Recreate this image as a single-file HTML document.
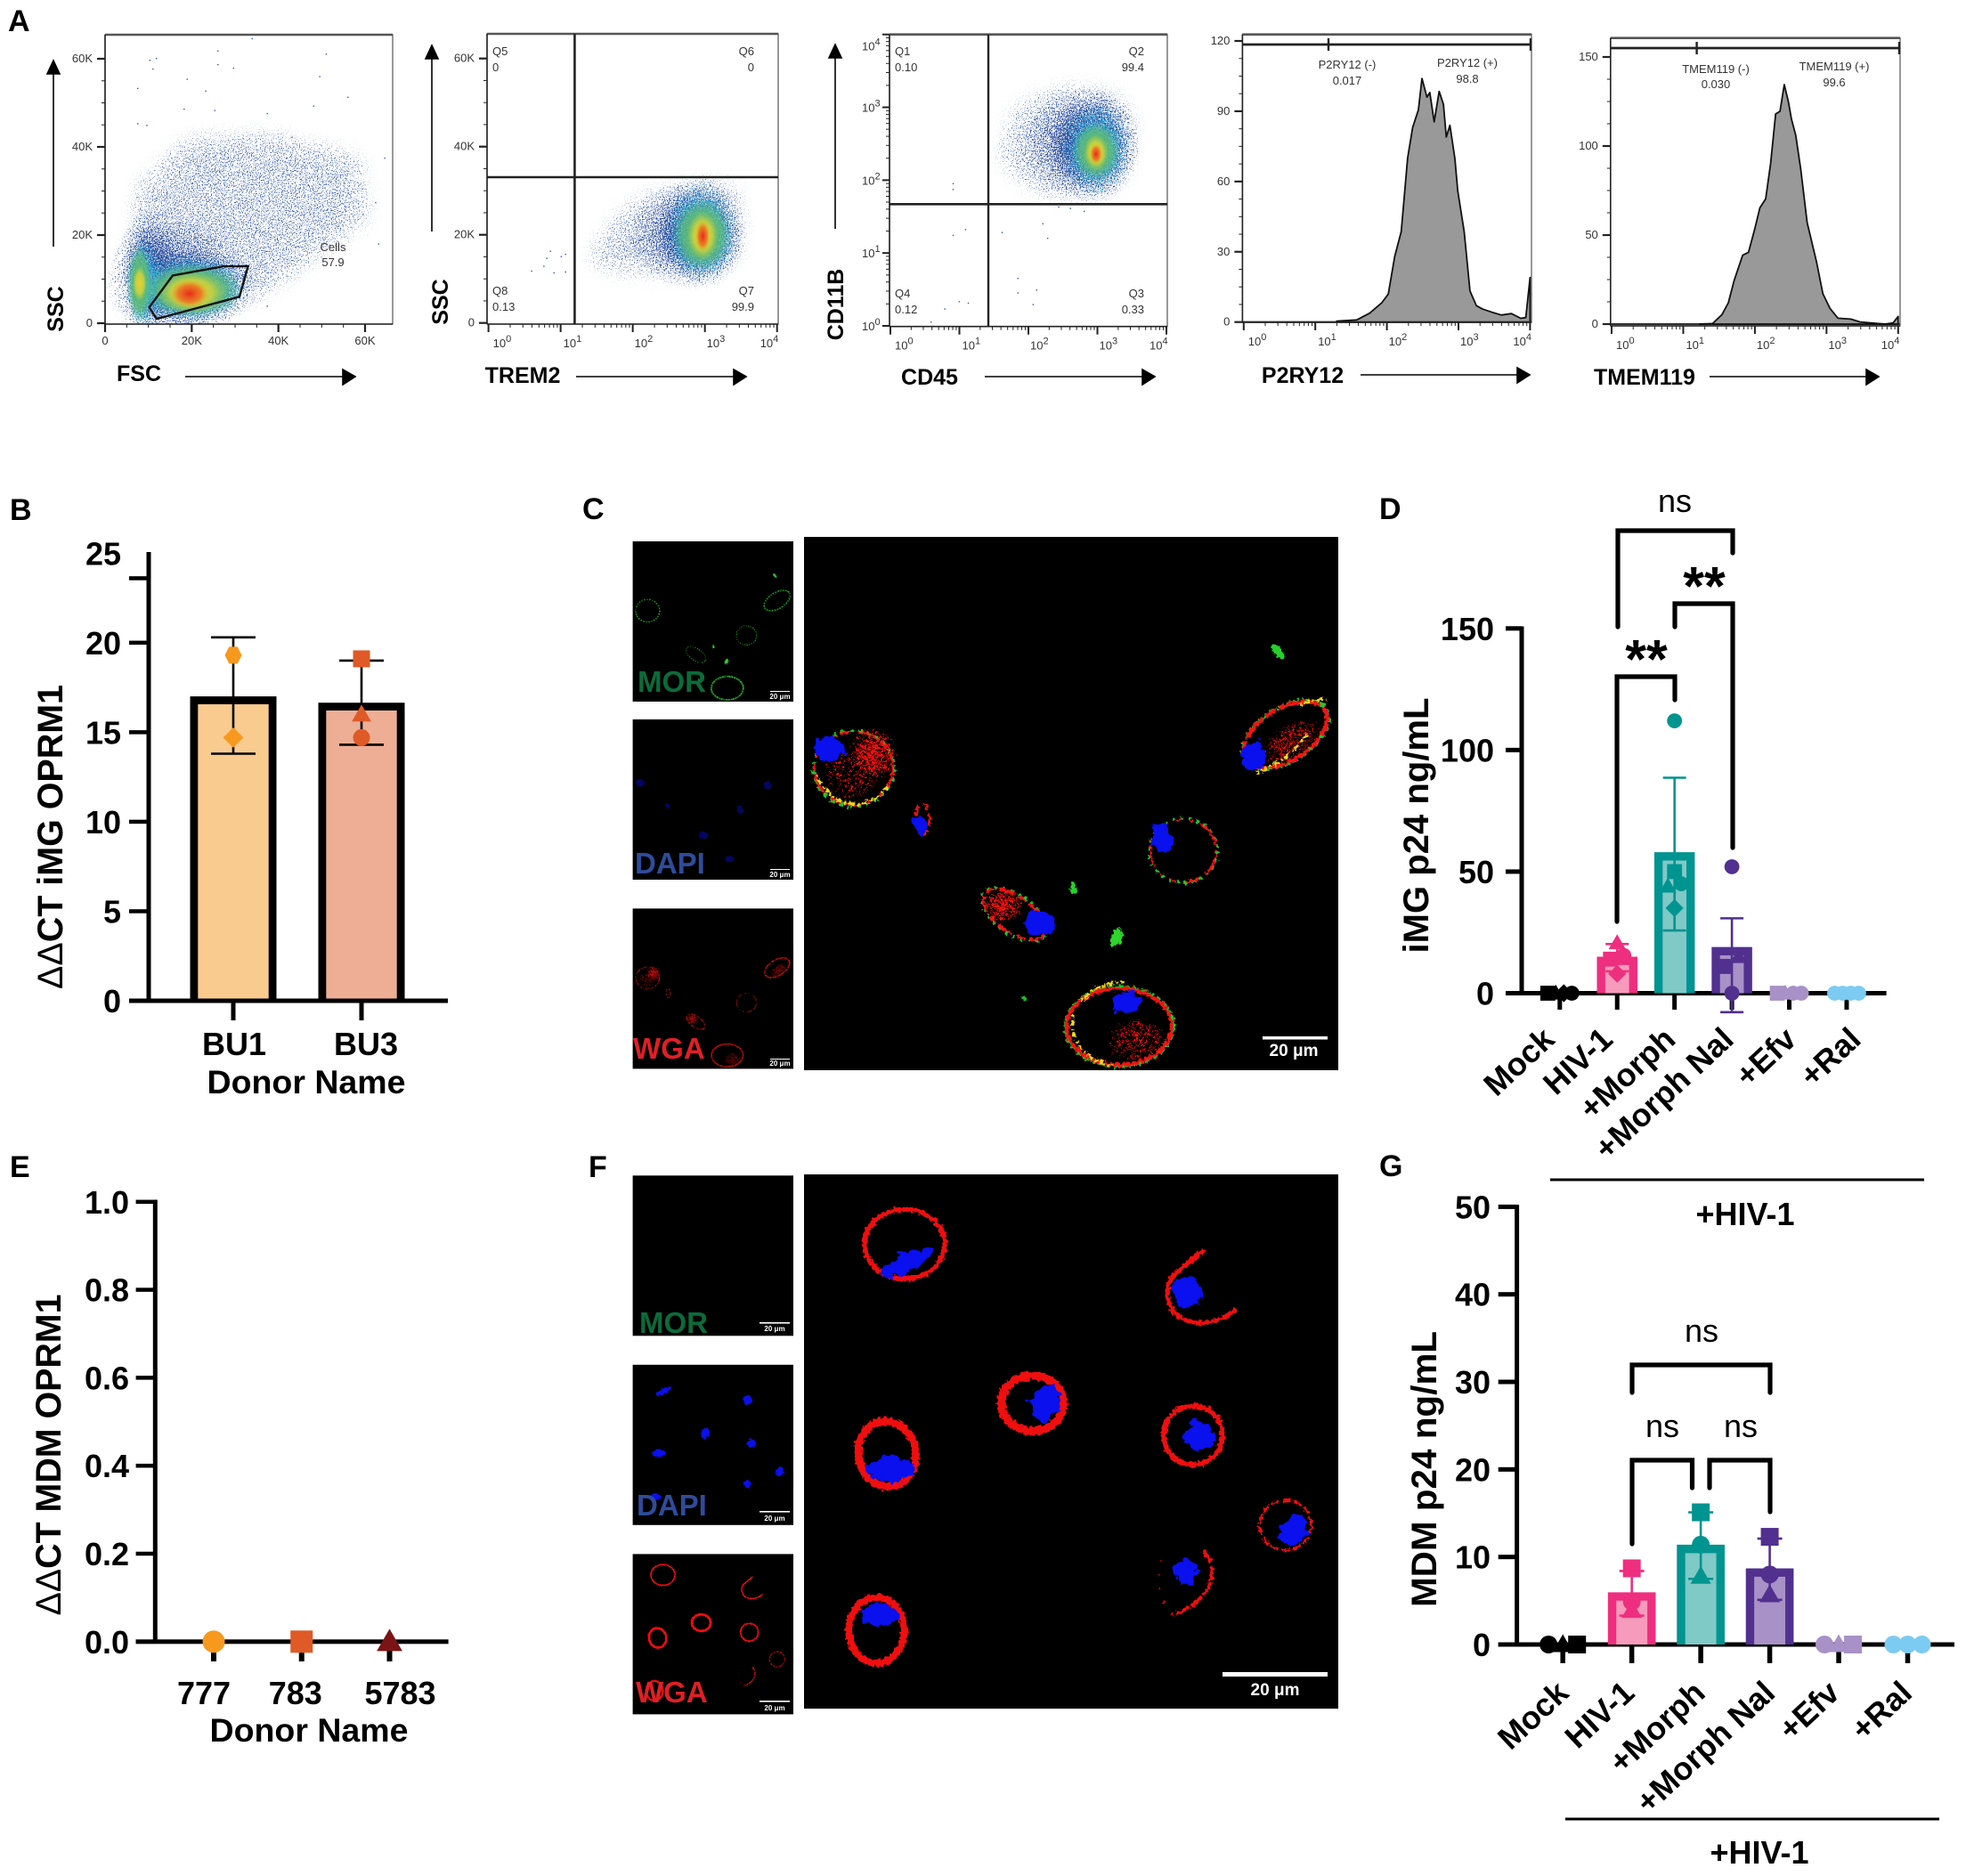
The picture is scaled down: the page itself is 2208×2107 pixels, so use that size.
<!DOCTYPE html>
<html lang="en">
<head>
<meta charset="utf-8">
<title>OPRM1 expression and HIV-1 p24 figure</title>
<style>
html,body{margin:0;padding:0;background:#fff;width:2208px;height:2107px;overflow:hidden}
svg{display:block;font-family:"Liberation Sans",Arial,sans-serif}
.pl{font-size:34px;font-weight:700;fill:#000}
.ttl{font-size:40px;font-weight:700;fill:#000}
.flow{font-size:25px;font-weight:700;fill:#000}
.sm{font-size:13px;fill:#333}
.bold{font-size:36px;font-weight:700;fill:#000}
.ns{font-size:36px;fill:#000}
.star{font-size:61px;font-weight:700;fill:#000}
.ch{font-size:33px;font-weight:700}
.bar{font-size:8px;font-weight:700;fill:#fff}
.big{font-size:19px;font-weight:700;fill:#fff}
</style>
</head>
<body>
<svg id="fig" xmlns="http://www.w3.org/2000/svg" width="2208" height="2107" viewBox="0 0 2208 2107">
<defs>
<radialGradient id="g-navy"><stop offset="0" stop-color="#000" stop-opacity=".8"/><stop offset=".6" stop-color="#000" stop-opacity=".34"/><stop offset="1" stop-color="#000" stop-opacity="0"/></radialGradient>
<radialGradient id="g-cyan"><stop offset="0" stop-color="#000" stop-opacity=".95"/><stop offset=".65" stop-color="#000" stop-opacity=".5"/><stop offset="1" stop-color="#000" stop-opacity="0"/></radialGradient>
<radialGradient id="g-green"><stop offset="0" stop-color="#63bd5c" stop-opacity="1"/><stop offset=".65" stop-color="#5cbc7a" stop-opacity=".8"/><stop offset="1" stop-color="#45b7a8" stop-opacity="0"/></radialGradient>
<radialGradient id="g-yellow"><stop offset="0" stop-color="#ecd02c" stop-opacity="1"/><stop offset=".6" stop-color="#d6d43a" stop-opacity=".8"/><stop offset="1" stop-color="#a8cc4a" stop-opacity="0"/></radialGradient>
<radialGradient id="g-red"><stop offset="0" stop-color="#e8281c" stop-opacity="1"/><stop offset=".6" stop-color="#ee6a1f" stop-opacity=".8"/><stop offset="1" stop-color="#eeaa25" stop-opacity="0"/></radialGradient>
<radialGradient id="g-patch"><stop offset="0" stop-color="#f00" stop-opacity=".8"/><stop offset=".65" stop-color="#f00" stop-opacity=".5"/><stop offset="1" stop-color="#f00" stop-opacity="0"/></radialGradient>
<filter id="spSparse" filterUnits="userSpaceOnUse" x="100" y="30" width="1240" height="345" color-interpolation-filters="sRGB">
<feGaussianBlur in="SourceAlpha" stdDeviation="11" result="b"/>
<feTurbulence type="fractalNoise" baseFrequency="0.8" numOctaves="1" seed="9" result="n"/>
<feColorMatrix in="n" type="matrix" values="0 0 0 0 0 0 0 0 0 0 0 0 0 0 0 3 0 0 0 -1" result="na"/>
<feComposite in="b" in2="na" operator="arithmetic" k2="1" k3="1" k4="-1" result="s"/>
<feComponentTransfer in="s" result="t"><feFuncA type="linear" slope="9"/></feComponentTransfer>
<feFlood flood-color="#3a5eab"/><feComposite in2="t" operator="in"/>
</filter>
<filter id="spNavy" filterUnits="userSpaceOnUse" x="100" y="30" width="1240" height="345" color-interpolation-filters="sRGB">
<feGaussianBlur in="SourceAlpha" stdDeviation="3" result="b"/>
<feTurbulence type="fractalNoise" baseFrequency="0.75" numOctaves="1" seed="4" result="n"/>
<feColorMatrix in="n" type="matrix" values="0 0 0 0 0 0 0 0 0 0 0 0 0 0 0 3 0 0 0 -1" result="na"/>
<feComposite in="b" in2="na" operator="arithmetic" k2="1" k3="1" k4="-1" result="s"/>
<feComponentTransfer in="s" result="t"><feFuncA type="linear" slope="7"/></feComponentTransfer>
<feFlood flood-color="#2b4c9e"/><feComposite in2="t" operator="in"/>
</filter>
<filter id="spCyan" filterUnits="userSpaceOnUse" x="100" y="30" width="1240" height="345" color-interpolation-filters="sRGB">
<feGaussianBlur in="SourceAlpha" stdDeviation="2" result="b"/>
<feTurbulence type="fractalNoise" baseFrequency="0.7" numOctaves="1" seed="11" result="n"/>
<feColorMatrix in="n" type="matrix" values="0 0 0 0 0 0 0 0 0 0 0 0 0 0 0 3 0 0 0 -1" result="na"/>
<feComposite in="b" in2="na" operator="arithmetic" k2="1" k3="1" k4="-1" result="s"/>
<feComponentTransfer in="s" result="t"><feFuncA type="linear" slope="7"/></feComponentTransfer>
<feFlood flood-color="#38aede"/><feComposite in2="t" operator="in"/>
</filter>
<filter id="spRed" x="-10%" y="-10%" width="120%" height="120%" color-interpolation-filters="sRGB">
<feGaussianBlur in="SourceAlpha" stdDeviation="1" result="b"/>
<feTurbulence type="fractalNoise" baseFrequency="0.5" numOctaves="1" seed="7" result="n"/>
<feColorMatrix in="n" type="matrix" values="0 0 0 0 0 0 0 0 0 0 0 0 0 0 0 3 0 0 0 -1" result="na"/>
<feComposite in="b" in2="na" operator="arithmetic" k2="1" k3="1" k4="-1" result="s"/>
<feComponentTransfer in="s" result="t"><feFuncA type="linear" slope="7"/></feComponentTransfer>
<feFlood flood-color="#f0120f"/><feComposite in2="t" operator="in"/>
</filter>
<filter id="rough" x="-15%" y="-15%" width="130%" height="130%" color-interpolation-filters="sRGB">
<feTurbulence type="fractalNoise" baseFrequency="0.28" numOctaves="2" seed="5" result="n"/>
<feDisplacementMap in="SourceGraphic" in2="n" scale="7" xChannelSelector="R" yChannelSelector="G"/>
</filter>
<filter id="roughN" x="-25%" y="-25%" width="150%" height="150%" color-interpolation-filters="sRGB">
<feTurbulence type="fractalNoise" baseFrequency="0.09" numOctaves="3" seed="13" result="n"/>
<feDisplacementMap in="SourceGraphic" in2="n" scale="15" xChannelSelector="R" yChannelSelector="G"/>
</filter>

<g id="c-red" filter="url(#rough)" fill="none" stroke="#ef1512">
<ellipse cx="958.6" cy="863" rx="44" ry="41" stroke-width="2.6" stroke-dasharray="24 4 9 7 32 5 13 9"/>
<ellipse cx="1036" cy="920" rx="8" ry="17" stroke-width="3" stroke-dasharray="8 5 12 6"/>
<ellipse cx="1329" cy="955.6" rx="37" ry="35" stroke-width="2.2" stroke-dasharray="30 6 18 12 6 9 4 10"/>
<ellipse cx="1443.7" cy="825" rx="52" ry="29" transform="rotate(-32 1443.7 825)" stroke-width="4.5" stroke-dasharray="30 3 15 3"/>
<ellipse cx="1139" cy="1027" rx="40" ry="20" transform="rotate(35 1139 1027)" stroke-width="3" stroke-dasharray="18 5 9 6"/>
<ellipse cx="1257" cy="1153" rx="59" ry="43" stroke-width="4"/>
<ellipse cx="980" cy="848" rx="29" ry="30" fill="url(#g-patch)" stroke="none" filter="url(#spRed)"/>
<ellipse cx="955" cy="870" rx="34" ry="30" fill="url(#g-patch)" fill-opacity=".45" stroke="none" filter="url(#spRed)"/>
<ellipse cx="1126" cy="1017" rx="24" ry="20" fill="url(#g-patch)" stroke="none" filter="url(#spRed)"/>
<ellipse cx="1450" cy="835" rx="40" ry="22" transform="rotate(-35 1450 835)" fill="url(#g-patch)" fill-opacity=".7" stroke="none" filter="url(#spRed)"/>
<ellipse cx="1278" cy="1170" rx="36" ry="28" fill="url(#g-patch)" fill-opacity=".6" stroke="none" filter="url(#spRed)"/>
</g>
<g id="c-green" filter="url(#rough)" fill="none" stroke="#27c52b">
<ellipse cx="958.6" cy="863" rx="45" ry="42" stroke-width="4" stroke-dasharray="5 5"/>
<ellipse cx="1329" cy="955.6" rx="38" ry="36" stroke-width="3.5" stroke-dasharray="3 6"/>
<ellipse cx="1443.7" cy="825" rx="54" ry="30" transform="rotate(-32 1443.7 825)" stroke-width="4" stroke-dasharray="6 4"/>
<ellipse cx="1139" cy="1027" rx="42" ry="22" transform="rotate(35 1139 1027)" stroke-width="3.5" stroke-dasharray="3 6"/>
<ellipse cx="1257" cy="1153" rx="60" ry="44" stroke-width="5" stroke-dasharray="7 2"/>
<ellipse cx="1435" cy="732" rx="10" ry="4.5" transform="rotate(50 1435 732)" fill="#25d12b" stroke="none"/>
<ellipse cx="1254" cy="1053" rx="6" ry="11" transform="rotate(20 1254 1053)" fill="#2ed52b" stroke="none"/>
<ellipse cx="1205.4" cy="997.7" rx="3.5" ry="7" fill="#28d12b" stroke="none"/>
<ellipse cx="1150" cy="1121" rx="2.5" ry="2.5" fill="#1fb82a" stroke="none"/>
</g>
<g id="c-blue" filter="url(#roughN)" fill="#0a10ee">
<ellipse cx="931.6" cy="842" rx="16" ry="13.5"/>
<ellipse cx="1033" cy="926" rx="7" ry="10" transform="rotate(-30 1033 926)"/>
<ellipse cx="1304.8" cy="941" rx="11" ry="18" transform="rotate(-12 1304.8 941)"/>
<ellipse cx="1408" cy="848" rx="14" ry="15"/>
<ellipse cx="1167" cy="1037.7" rx="16" ry="14"/>
<ellipse cx="1264.6" cy="1126" rx="17" ry="13"/>
</g>

<g id="f-red" filter="url(#rough)" fill="none" stroke="#f00e0e">
<ellipse cx="1016" cy="1397.3" rx="45" ry="39" stroke-width="5.5"/>
<path d="M1352 1404 C1335 1420 1312 1430 1311 1450 C1310 1470 1325 1485 1346 1486 C1365 1486 1380 1478 1388 1470" stroke-width="5"/>
<ellipse cx="1159.5" cy="1576" rx="35" ry="31" stroke-width="9.5"/>
<ellipse cx="996" cy="1633" rx="32" ry="37" transform="rotate(-12 996 1633)" stroke-width="9"/>
<ellipse cx="1340" cy="1612" rx="33" ry="33" stroke-width="6"/>
<ellipse cx="1443.7" cy="1713" rx="29" ry="28" stroke-width="2.8" stroke-dasharray="10 3"/>
<path d="M1352 1742 C1368 1760 1362 1790 1337 1804 C1330 1810 1322 1812 1317 1814" stroke-width="4" stroke-dasharray="16 3"/>
<path d="M1317 1814 C1300 1795 1293 1765 1310 1745" stroke-width="1.5" stroke-dasharray="2 14"/>
<ellipse cx="984.4" cy="1831" rx="31" ry="37" stroke-width="8"/>
</g>
<g id="f-blue" filter="url(#roughN)" fill="#0a10ee">
<ellipse cx="1018.9" cy="1418.4" rx="30" ry="11" transform="rotate(-28 1018.9 1418.4)"/>
<ellipse cx="1333" cy="1452" rx="16" ry="18"/>
<ellipse cx="1173.9" cy="1576" rx="17" ry="20" transform="rotate(15 1173.9 1576)"/>
<ellipse cx="1000.5" cy="1650" rx="25" ry="15"/>
<ellipse cx="1347" cy="1612" rx="17" ry="15"/>
<ellipse cx="1454" cy="1719" rx="14" ry="18" transform="rotate(25 1454 1719)"/>
<ellipse cx="1331.7" cy="1765.6" rx="14" ry="14"/>
<ellipse cx="987.3" cy="1814" rx="20" ry="13"/>
</g>
</defs>

<rect width="2208" height="2107" fill="#fff"/>

<g>
<text class="pl" x="9" y="35">A</text>
<text class="pl" x="11" y="584">B</text>
<text class="pl" x="654" y="583">C</text>
<text class="pl" x="1549" y="583">D</text>
<text class="pl" x="11" y="1322">E</text>
<text class="pl" x="661" y="1322">F</text>
<text class="pl" x="1549" y="1321">G</text>
</g>

<g id="panelA"></g>

<g>
<text class="flow" x="156" y="428" text-anchor="middle">FSC</text>
<text class="flow" transform="translate(71,347) rotate(-90)" text-anchor="middle">SSC</text>
<text class="flow" x="587" y="430" text-anchor="middle">TREM2</text>
<text class="flow" transform="translate(503,339) rotate(-90)" text-anchor="middle">SSC</text>
<text class="flow" x="1044" y="432" text-anchor="middle">CD45</text>
<text class="flow" transform="translate(947,342) rotate(-90)" text-anchor="middle">CD11B</text>
<text class="flow" x="1463" y="430" text-anchor="middle">P2RY12</text>
<text class="flow" x="1847" y="432" text-anchor="middle">TMEM119</text>
<g fill="#000" stroke="#000" stroke-width="1.6">
<path d="M60 277V80"/><path d="M60 68l-7 15h14z"/>
<path d="M208 423H386"/><path d="M399 423l-14-8v17z"/>
<path d="M485 260V62"/><path d="M485 51l-7 15h14z"/>
<path d="M647 423H825"/><path d="M838 423l-14-8v17z"/>
<path d="M938 257V62"/><path d="M938 50l-7 15h14z"/>
<path d="M1106 423H1285"/><path d="M1297 423l-14-8v17z"/>
<path d="M1528 421H1706"/><path d="M1718 421l-14-8v17z"/>
<path d="M1920 423H2098"/><path d="M2110 423l-14-8v17z"/>
</g>
</g>

<g id="panelC">
<rect x="903" y="603" width="600" height="599" fill="#000"/>
<use href="#c-green"/>
<use href="#c-red"/>
<path filter="url(#rough)" d="M917 870 C925 890 945 905 965 903 C980 900 990 895 998 880 M1206 1140 C1200 1165 1215 1190 1250 1197 M1215 1125 C1225 1110 1245 1103 1262 1103 M1412 868 C1430 860 1450 850 1468 825 M1460 792 C1470 788 1485 785 1490 785" fill="none" stroke="#f1d91f" stroke-width="3.2" stroke-dasharray="3 2 7 3"/>
<use href="#c-blue"/>
<rect x="1418" y="1164" width="73" height="3.5" fill="#fff"/>
<text class="big" x="1453" y="1186" text-anchor="middle">20 μm</text>

<rect x="710.6" y="608" width="180.4" height="180" fill="#000"/>
<use href="#c-green" transform="translate(439.7,427) scale(.3)"/>
<text class="ch" x="716" y="777" fill="#0b6b3a">MOR</text>
<rect x="865" y="776" width="22" height="1" fill="#fff"/>
<text class="bar" x="876" y="785" text-anchor="middle">20 μm</text>

<rect x="710.6" y="808" width="180.4" height="180" fill="#000"/>
<use href="#c-blue" opacity=".4" transform="translate(439.7,627) scale(.3)"/>
<text class="ch" x="713" y="981" fill="#2e4c9b">DAPI</text>
<rect x="865" y="976" width="22" height="1" fill="#fff"/>
<text class="bar" x="876" y="985" text-anchor="middle">20 μm</text>

<rect x="710.6" y="1020.4" width="180.4" height="180" fill="#000"/>
<use href="#c-red" opacity=".85" transform="translate(439.7,839.4) scale(.3)"/>
<text class="ch" x="711" y="1189" fill="#e01f26">WGA</text>
<rect x="865" y="1189" width="22" height="1" fill="#fff"/>
<text class="bar" x="876" y="1197" text-anchor="middle">20 μm</text>
</g>

<g id="panelF">
<rect x="903" y="1319" width="600" height="600" fill="#000"/>
<use href="#f-red"/>
<use href="#f-blue"/>
<rect x="1373" y="1878" width="118" height="5" fill="#fff"/>
<text class="big" x="1432" y="1904" text-anchor="middle">20 μm</text>

<rect x="710.6" y="1320.3" width="180.4" height="180" fill="#000"/>
<text class="ch" x="718" y="1497" fill="#0b6b3a">MOR</text>
<rect x="853" y="1485" width="34" height="1.6" fill="#fff"/>
<text class="bar" x="870" y="1495" text-anchor="middle" font-size="9">20 μm</text>

<rect x="710.6" y="1532.8" width="180.4" height="180" fill="#000"/>
<use href="#f-blue" transform="translate(439.7,1137.1) scale(.3)"/>
<text class="ch" x="715" y="1702" fill="#2e4c9b">DAPI</text>
<rect x="853" y="1697" width="34" height="1.6" fill="#fff"/>
<text class="bar" x="870" y="1708" text-anchor="middle" font-size="9">20 μm</text>

<rect x="710.6" y="1745.4" width="180.4" height="180" fill="#000"/>
<use href="#f-red" transform="translate(439.7,1349.7) scale(.3)"/>
<text class="ch" x="714" y="1912" fill="#e01f26">WGA</text>
<rect x="853" y="1910" width="34" height="1.6" fill="#fff"/>
<text class="bar" x="870" y="1921" text-anchor="middle" font-size="9">20 μm</text>
</g>

<g id="panelB">
<text class="ttl" transform="translate(70,940) rotate(-90)" text-anchor="middle" textLength="342" lengthAdjust="spacingAndGlyphs"><tspan font-weight="400">ΔΔ</tspan>CT iMG OPRM1</text>
<text class="bold" x="344" y="1228" text-anchor="middle" font-size="37" style="font-size:37.5px">Donor Name</text>
</g>
<g id="panelE">
<text class="ttl" transform="translate(68,1634) rotate(-90)" text-anchor="middle" textLength="361" lengthAdjust="spacingAndGlyphs"><tspan font-weight="400">ΔΔ</tspan>CT MDM OPRM1</text>
<text class="bold" x="347" y="1956" text-anchor="middle" style="font-size:37.5px">Donor Name</text>
</g>
<g id="panelD">
<text class="ttl" transform="translate(1604,927) rotate(-90)" text-anchor="middle" textLength="287" lengthAdjust="spacingAndGlyphs">iMG p24 ng/mL</text>
</g>
<g id="panelG">
<text class="ttl" transform="translate(1613,1650) rotate(-90)" text-anchor="middle" textLength="310" lengthAdjust="spacingAndGlyphs">MDM p24 ng/mL</text>
</g>

<g>
<rect x="1741" y="1323.5" width="420" height="3" fill="#000"/>
<text class="bold" x="1960" y="1376" text-anchor="middle">+HIV-1</text>
<rect x="1758" y="2041.5" width="420" height="3" fill="#000"/>
<text class="bold" x="1976" y="2093" text-anchor="middle">+HIV-1</text>
</g>
</svg>

<script>
/* ---------- Panel A data: side-scatter vs forward-scatter (values in thousands) ---------- */
const fscOutlierX = [10.2,11.7,25.9,33.8,50.9,18.8,23.1,7.4,29.5,25.9,10.9,49.4,55.9,48,37.3,25.2,18.1,7.4,9.5,43,64.4,62.3,59.4,53.7,63,37.3];
const fscOutlierY = [59.8,60.2,61.9,64.7,61.2,55.5,52.8,53.4,58,58.8,57.8,56.1,51.4,49.4,47.7,48.4,48.7,45.4,45,42.3,37.6,27.5,24.8,22.1,18.1,4];
const fscSparseHullX = [8,8,19,38,58,60,40,36,19];
const fscSparseHullY = [2,30,41,42,37,24,10,7,3];
const fscDensityX = [16,10,21,9,19,8,20,20,8,19.5];
const fscDensityY = [10,12,8,9,8,9,7.5,7,9,6.7];
const fscSpreadX = [16,7,15,4,14,3,12,8,1.6,4.5];
const fscSpreadY = [15,15,9,11,8,9,6.5,4.8,4,3.2];
const fscDensityLevel = ['navy','navy','navy','cyan','cyan','green','green','yellow','yellow','red'];
const fscGateX = [10.2,15.6,27.3,33,31,11.9];
const fscGateY = [3.6,10.8,12.9,12.9,6,1];

/* ---------- Panel A data: SSC vs TREM2 (x as log10 intensity, y in thousands) ---------- */
const trem2OutlierX = [0.85,1.06,0.76,1.06,0.59,0.9,1.0,0.8];
const trem2OutlierY = [16.4,15.7,13,11.7,11.9,11.5,15.2,14.8];
const trem2SparseHullX = [1.45,1.9,2.4,3.01,3.4,3.45,3.4,3.01,2.2,1.6];
const trem2SparseHullY = [15,25,29.5,31,30.5,24.2,15,12,12,13];
const trem2DensityX = [2.75,2.93,2.95,2.96,2.97,2.97];
const trem2DensityY = [20,20.7,20.5,20,19.8,19.7];
const trem2SpreadX = [0.85,0.62,0.52,0.42,0.22,0.1];
const trem2SpreadY = [12,13,11.5,8.5,5.5,3.5];
const trem2DensityLevel = ['navy','navy','cyan','green','yellow','red'];

/* ---------- Panel A data: CD11B vs CD45 (both as log10 intensity) ---------- */
const cd45OutlierX = [0.9,0.9,0.9,1.08,0.58,0.99,0.78,1.12,1.84,2.11,1.84,2.06,1.61,2.2,2.27,2.43,2.8,2.6];
const cd45OutlierY = [1.96,1.88,1.25,1.33,0.06,0.34,0.24,0.32,0.66,0.5,0.46,0.3,1.29,1.41,1.21,1.64,1.58,1.62];
const cd45SparseHullX = [1.65,1.85,2.5,3.2,3.45,3.38,3.05,2.3,1.95];
const cd45SparseHullY = [2.3,2.95,3.22,3.15,2.9,2.1,1.85,1.85,2.0];
const cd45DensityX = [2.75,2.95,2.97,2.98,2.98,2.98];
const cd45DensityY = [2.5,2.48,2.44,2.4,2.38,2.36];
const cd45SpreadX = [0.85,0.68,0.52,0.36,0.18,0.09];
const cd45SpreadY = [0.78,0.8,0.66,0.42,0.25,0.14];
const cd45DensityLevel = ['navy','navy','cyan','green','yellow','red'];

/* ---------- Panel A data: histograms (log10 intensity, event count) ---------- */
const p2ry12LogIntensity = [1.30,1.58,1.76,1.93,2.02,2.11,2.20,2.29,2.36,2.44,2.49,2.56,2.60,2.66,2.73,2.79,2.83,2.88,2.95,2.99,3.08,3.16,3.25,3.34,3.47,3.60,3.74,3.87,3.94,4.0];
const p2ry12Counts = [0.4,0.9,3.8,8.3,12,28,38.6,70,83,90.6,104,96,98,85.5,98.5,93,79,84,69.7,56,38.6,13.3,7,5.5,4.2,3,3.6,1.6,1.9,19];
const p2ry12YTicks = [0,30,60,90,120];
const tmem119LogIntensity = [1.23,1.41,1.54,1.63,1.71,1.83,1.91,2.00,2.07,2.15,2.22,2.29,2.35,2.41,2.47,2.51,2.57,2.64,2.73,2.86,2.95,3.05,3.16,3.34,3.47,3.82,3.93,4.0];
const tmem119Counts = [0,0.3,5.3,12,24.5,38.7,40.3,53.7,65.3,70.3,90.3,118,119.5,134.5,124.5,115.3,106,87,57,35,17,8.7,3.3,2.8,1.2,0,0.7,4.3];
const tmem119YTicks = [0,50,100,150];
const scatterKTicks = [0,20,40,60];
const logTickExponents = [0,1,2,3,4];

/* ---------- Panel B data ---------- */
const panelBCategories = ['BU1','BU3'];
const panelBMeans = [17,16.65];
const panelBErrHigh = [20.3,19];
const panelBErrLow = [13.8,14.3];
const panelBPoints = [[19.3,14.7],[19.1,16,14.7]];
const panelBShapes = [['hexagon','diamond'],['square','triangle','circle']];
const panelBTickLabels = [0,5,10,15,20,25];
const panelBTickMarks = [0,5,10,15,20,23.6];

/* ---------- Panel D data ---------- */
const panelDCategories = ['Mock','HIV-1','+Morph','+Morph Nal','+Efv','+Ral'];
const panelDMeans = [0,15,58,19,0,0];
const panelDErrHigh = [0,20.2,88.6,30.8,0,0];
const panelDErrLow = [0,9,25.8,-7.8,0,0];
const panelDPoints = [[0,0,0,0],[15.5,14,20.7,8],[112,50,44,35,45],[52,11,0,15],[0,0,0,0],[0,0,0,0]];
const panelDShapes = [['square','triangle','diamond','circle'],['circle','square','triangle','diamond'],['circle','square','triangle','diamond','circle'],['circle','square','circle','triangle'],['square','triangle','circle','circle'],['circle','circle','circle','circle']];
const panelDTicks = [0,50,100,150];

/* ---------- Panel E data ---------- */
const panelECategories = ['777','783','5783'];
const panelEValues = [0,0,0];
const panelEShapes = ['circle','square','triangle'];
const panelETicks = [0,0.2,0.4,0.6,0.8,1.0];

/* ---------- Panel G data ---------- */
const panelGCategories = ['Mock','HIV-1','+Morph','+Morph Nal','+Efv','+Ral'];
const panelGMeans = [0,5.96,11.4,8.7,0,0];
const panelGErrHigh = [0,8.4,15.1,12.1,0,0];
const panelGErrLow = [0,3.3,7.5,5.1,0,0];
const panelGPoints = [[0,0,0],[4.9,8.7,3.9],[11.4,15.1,7.8],[8,12.3,5.7],[0,0,0],[0,0,0]];
const panelGShapes = [['circle','triangle','square'],['circle','square','triangle'],['circle','square','triangle'],['circle','square','triangle'],['circle','triangle','square'],['circle','circle','circle']];
const panelGTicks = [0,10,20,30,40,50];

/* ---------- shared helpers ---------- */
const NS = 'http://www.w3.org/2000/svg';
function mk(tag, attrs, parent, txt) {
  const e = document.createElementNS(NS, tag);
  for (const k in attrs) e.setAttribute(k, attrs[k]);
  if (txt !== undefined) e.textContent = txt;
  parent.appendChild(e);
  return e;
}
const linear = (d0, d1, r0, r1) => v => r0 + (v - d0) * (r1 - r0) / (d1 - d0);
const polyPts = (xs, ys, fx, fy) => xs.map((v, i) => fx(v).toFixed(1) + ',' + fy(ys[i]).toFixed(1)).join(' ');

function marker(parent, shape, cx, cy, r, color) {
  let el;
  if (shape === 'circle') el = mk('ellipse', {cx, cy, rx: r, ry: r, fill: color}, parent);
  else if (shape === 'square') el = mk('rect', {x: cx - r, y: cy - r, width: 2 * r, height: 2 * r, fill: color}, parent);
  else if (shape === 'triangle') el = mk('polygon', {points: `${cx},${cy - r * 1.15} ${cx + r * 1.15},${cy + r * .85} ${cx - r * 1.15},${cy + r * .85}`, fill: color}, parent);
  else if (shape === 'diamond') el = mk('polygon', {points: `${cx},${cy - r * 1.2} ${cx + r * 1.2},${cy} ${cx},${cy + r * 1.2} ${cx - r * 1.2},${cy}`, fill: color}, parent);
  else el = mk('polygon', {points: `${cx - r},${cy} ${cx - r * .5},${cy - r} ${cx + r * .5},${cy - r} ${cx + r},${cy} ${cx + r * .5},${cy + r} ${cx - r * .5},${cy + r}`, fill: color}, parent);
  
  
  return el;
}

/* Prism-like swarm: points closer than `near` pixels are spread evenly around the category centre */
function swarm(values, y, spacing, tightSpacing, near) {
  const order = values.map((v, i) => i).sort((a, b) => values[a] - values[b]);
  const out = new Array(values.length).fill(0);
  let start = 0;
  for (let k = 1; k <= order.length; k++) {
    if (k === order.length || Math.abs(y(values[order[k]]) - y(values[order[k - 1]])) > near) {
      const n = k - start;
      const gap = n >= 4 ? tightSpacing : spacing;
      for (let j = start; j < k; j++) out[order[j]] = (j - start - (n - 1) / 2) * gap;
      start = k;
    }
  }
  return out;
}

/* ---------- flow cytometry drawing ---------- */
const panelA = document.getElementById('panelA');

function frame(g, L, T, R, B) {
  const f = mk('rect', {x: L, y: T, width: R - L, height: B - T, fill: 'none', stroke: '#555', 'stroke-width': 1.2}, g);
  
  
  const top = mk('line', {x1: L, x2: R, y1: T, y2: T, stroke: '#555', 'stroke-width': 2.6}, g);
  
  
  const left = mk('line', {x1: L, x2: L, y1: T, y2: B, stroke: '#222', 'stroke-width': 1.6}, g);
  
  
  const bot = mk('line', {x1: L, x2: R, y1: B, y2: B, stroke: '#222', 'stroke-width': 1.6}, g);
  
  
}
function tickLine(g, x1, y1, x2, y2, w, name) {
  const t = mk('line', {x1, y1, x2, y2, stroke: '#222', 'stroke-width': w}, g);
  
  
}
function smallLabel(g, x, y, anchor, str, name) {
  const t = mk('text', {class: 'sm', x, y, 'text-anchor': anchor}, g, str);
  
  
  return t;
}
function logLabel(g, x, y, exp, anchor, name) {
  const t = mk('text', {class: 'sm', x, y, 'text-anchor': anchor}, g, '10');
  
  
  mk('tspan', {dy: -6, 'font-size': 11}, t, String(exp));
}
function linYAxis(g, L, y, ticks, fmt) {
  for (let i = 0; i < ticks.length; i++) {
    tickLine(g, L - 9, y(ticks[i]), L, y(ticks[i]), 2.2, 'y-tick');
    smallLabel(g, L - 14, y(ticks[i]) + 4, 'end', fmt(ticks[i]), 'y-tick-label');
    if (i + 1 < ticks.length) {
      for (let m = 1; m < 4; m++) {
        const v = ticks[i] + (ticks[i + 1] - ticks[i]) * m / 4;
        tickLine(g, L - 4, y(v), L, y(v), 1, 'y-minor-tick');
      }
    }
  }
}
function linXAxis(g, B, x, ticks, fmt) {
  for (let i = 0; i < ticks.length; i++) {
    tickLine(g, x(ticks[i]), B, x(ticks[i]), B + 9, 2.2, 'x-tick');
    smallLabel(g, x(ticks[i]), B + 23, 'middle', fmt(ticks[i]), 'x-tick-label');
    for (let m = 1; m < 4; m++) {
      const v = ticks[i] + (ticks[1] - ticks[0]) * m / 4;
      if (x(v) < x(ticks[ticks.length - 1]) + 20) tickLine(g, x(v), B, x(v), B + 4, 1, 'x-minor-tick');
    }
  }
}
function logXAxis(g, B, x) {
  const nudges = [12, 10, 9, 9, -12];
  logTickExponents.forEach((e, i) => {
    tickLine(g, x(e), B, x(e), B + 9, 2, 'x-tick');
    logLabel(g, x(e) + nudges[i] - 7, B + 26, e, 'start', 'x-tick-label');
    if (i < 4) for (let m = 2; m < 10; m++) tickLine(g, x(e + Math.log10(m)), B, x(e + Math.log10(m)), B + 4, 1, 'x-minor-tick');
  });
}
function logYAxis(g, L, y) {
  logTickExponents.forEach((e, i) => {
    tickLine(g, L - 8, y(e), L, y(e), 2, 'y-tick');
    logLabel(g, L - 31, y(e) + (i === 4 ? 18 : 5), e, 'start', 'y-tick-label');
    if (i < 4) for (let m = 2; m < 10; m++) tickLine(g, L - 4, y(e + Math.log10(m)), L, y(e + Math.log10(m)), 1, 'y-minor-tick');
  });
}
function densityLayers(g, x, y, hx, hy, dx, dy, sx, sy, lv, ox, oy) {
  const sparse = mk('g', {filter: 'url(#spSparse)'}, g);
  
  
  const hull = mk('polygon', {points: polyPts(hx, hy, x, y), fill: '#000', 'fill-opacity': .3}, sparse);
  
  
  const navy = mk('g', {filter: 'url(#spNavy)'}, g);
  
  
  const cyan = mk('g', {filter: 'url(#spCyan)'}, g);
  
  
  const solid = mk('g', {}, g);
  
  
  dx.forEach((v, i) => {
    const host = lv[i] === 'navy' ? navy : lv[i] === 'cyan' ? cyan : solid;
    const e = mk('ellipse', {cx: x(v), cy: y(dy[i]), rx: Math.abs(x(v + sx[i]) - x(v)), ry: Math.abs(y(dy[i] + sy[i]) - y(dy[i])), fill: 'url(#g-' + lv[i] + ')'}, host);
    
    
  });
  ox.forEach((v, i) => {
    const d = mk('rect', {x: x(v), y: y(oy[i]), width: 1.4, height: 1.4, fill: '#3357a8'}, g);
    
    
  });
}
function clipTo(id, L, T, R, B) {
  const defs = document.querySelector('defs');
  const c = mk('clipPath', {id}, defs);
  mk('rect', {x: L, y: T, width: R - L, height: B - T}, c);
}

/* FSC / SSC */
(function () {
  const L = 118, T = 39, R = 441, B = 364;
  const g = mk('g', {}, panelA);
  
  
  const x = linear(0, 60, 118, 410), y = linear(0, 60, 363, 66);
  clipTo('clip1', L, T, R, B);
  const inner = mk('g', {'clip-path': 'url(#clip1)'}, g);
  densityLayers(inner, x, y, fscSparseHullX, fscSparseHullY, fscDensityX, fscDensityY, fscSpreadX, fscSpreadY, fscDensityLevel, fscOutlierX, fscOutlierY);
  const gate = mk('polygon', {points: polyPts(fscGateX, fscGateY, x, y), fill: 'none', stroke: '#111', 'stroke-width': 2.4}, g);
  
  
  frame(g, L, T, R, B);
  linYAxis(g, L, y, scatterKTicks, v => v ? v + 'K' : '0');
  linXAxis(g, B, x, scatterKTicks, v => v ? v + 'K' : '0');
  smallLabel(g, 374, 282, 'middle', 'Cells', 'gate-name');
  smallLabel(g, 374, 299, 'middle', '57.9', 'gate-percent');
})();

/* TREM2 / SSC */
(function () {
  const L = 547, T = 38, R = 874, B = 364;
  const g = mk('g', {}, panelA);
  
  
  const x = linear(0, 4, 548.6, 872.7), y = linear(0, 60, 362.7, 65.7);
  clipTo('clip2', L, T, R, B);
  const inner = mk('g', {'clip-path': 'url(#clip2)'}, g);
  densityLayers(inner, x, y, trem2SparseHullX, trem2SparseHullY, trem2DensityX, trem2DensityY, trem2SpreadX, trem2SpreadY, trem2DensityLevel, trem2OutlierX, trem2OutlierY);
  frame(g, L, T, R, B);
  tickLine(g, 645.4, T, 645.4, B, 2.6, 'quadrant-vertical-gate');
  tickLine(g, L, 199, R, 199, 2.6, 'quadrant-horizontal-gate');
  linYAxis(g, L, y, scatterKTicks, v => v ? v + 'K' : '0');
  logXAxis(g, B, x);
  smallLabel(g, 553, 62, 'start', 'Q5', 'quadrant-name');
  smallLabel(g, 553, 80, 'start', '0', 'quadrant-percent');
  smallLabel(g, 847, 62, 'end', 'Q6', 'quadrant-name');
  smallLabel(g, 847, 80, 'end', '0', 'quadrant-percent');
  smallLabel(g, 553, 331, 'start', 'Q8', 'quadrant-name');
  smallLabel(g, 553, 349, 'start', '0.13', 'quadrant-percent');
  smallLabel(g, 847, 331, 'end', 'Q7', 'quadrant-name');
  smallLabel(g, 847, 349, 'end', '99.9', 'quadrant-percent');
})();

/* CD45 / CD11B */
(function () {
  const L = 999, T = 38.7, R = 1311, B = 366.7;
  const g = mk('g', {}, panelA);
  
  
  const x = linear(0, 4, 1000, 1310), y = linear(0, 4, 366, 38.7);
  clipTo('clip3', L, T, R, B);
  const inner = mk('g', {'clip-path': 'url(#clip3)'}, g);
  densityLayers(inner, x, y, cd45SparseHullX, cd45SparseHullY, cd45DensityX, cd45DensityY, cd45SpreadX, cd45SpreadY, cd45DensityLevel, cd45OutlierX, cd45OutlierY);
  frame(g, L, T, R, B);
  tickLine(g, 1110, T, 1110, B, 2.4, 'quadrant-vertical-gate');
  tickLine(g, L, 229.3, R, 229.3, 2.6, 'quadrant-horizontal-gate');
  logYAxis(g, L, y);
  logXAxis(g, B, x);
  smallLabel(g, 1005, 62, 'start', 'Q1', 'quadrant-name');
  smallLabel(g, 1005, 80, 'start', '0.10', 'quadrant-percent');
  smallLabel(g, 1285, 62, 'end', 'Q2', 'quadrant-name');
  smallLabel(g, 1285, 80, 'end', '99.4', 'quadrant-percent');
  smallLabel(g, 1005, 334, 'start', 'Q4', 'quadrant-name');
  smallLabel(g, 1005, 352, 'start', '0.12', 'quadrant-percent');
  smallLabel(g, 1285, 334, 'end', 'Q3', 'quadrant-name');
  smallLabel(g, 1285, 352, 'end', '0.33', 'quadrant-percent');
})();

function histogram(name, L, T, R, B, x, y, logs, counts, ticks, gateY, gateX) {
  const g = mk('g', {}, panelA);
  
  
  const pts = x(logs[0]).toFixed(1) + ',' + y(0).toFixed(1) + ' ' + polyPts(logs, counts, x, y) + ' ' + x(logs[logs.length - 1]).toFixed(1) + ',' + y(0).toFixed(1);
  const base = mk('line', {x1: L, x2: R, y1: y(0), y2: y(0), stroke: '#333', 'stroke-width': 2.2}, g);
  
  
  const area = mk('polygon', {points: pts, fill: '#999', stroke: '#111', 'stroke-width': 1.8, 'stroke-linejoin': 'round'}, g);
  
  
  frame(g, L, T, R, B);
  linYAxis(g, L, y, ticks, v => String(v));
  logXAxis(g, B, x);
  tickLine(g, L, gateY, R, gateY, 2.8, 'gate-bar');
  tickLine(g, gateX, gateY - 7, gateX, gateY + 7, 2.4, 'gate-divider');
  tickLine(g, R - 1, gateY - 7, R - 1, gateY + 7, 2.4, 'gate-end');
  return g;
}
(function () {
  const g = histogram('p2ry12-histogram', 1395.4, 38.7, 1720, 362, linear(0, 4, 1396.8, 1718.4), linear(0, 120, 361.7, 46), p2ry12LogIntensity, p2ry12Counts, p2ry12YTicks, 50, 1492);
  smallLabel(g, 1513, 77, 'middle', 'P2RY12 (-)', 'gate-negative-label');
  smallLabel(g, 1513, 95, 'middle', '0.017', 'gate-negative-percent');
  smallLabel(g, 1648, 75, 'middle', 'P2RY12 (+)', 'gate-positive-label');
  smallLabel(g, 1648, 93, 'middle', '98.8', 'gate-positive-percent');
  const g2 = histogram('tmem119-histogram', 1808.8, 42.7, 2134, 366, linear(0, 4, 1810, 2131.8), linear(0, 150, 364, 64), tmem119LogIntensity, tmem119Counts, tmem119YTicks, 54, 1905.6);
  smallLabel(g2, 1927, 82, 'middle', 'TMEM119 (-)', 'gate-negative-label');
  smallLabel(g2, 1927, 99, 'middle', '0.030', 'gate-negative-percent');
  smallLabel(g2, 2060, 79, 'middle', 'TMEM119 (+)', 'gate-positive-label');
  smallLabel(g2, 2060, 97, 'middle', '99.6', 'gate-positive-percent');
})();

/* ---------- bar charts ---------- */
function axesFrame(g, axisX, top, base, leftEnd, rightEnd, w) {
  const v = mk('rect', {x: axisX - w / 2, y: top, width: w, height: base - top, fill: '#000'}, g);
  
  
}
function xAxisLine(g, base, leftEnd, rightEnd, w) {
  const h = mk('rect', {x: leftEnd, y: base - w / 2, width: rightEnd - leftEnd, height: w, fill: '#000'}, g);
  
  
}
function yTicks(g, axisX, leftEnd, labelX, y, marks, labels, fmt, w) {
  marks.forEach(v => {
    const t = mk('rect', {x: leftEnd, y: y(v) - w / 2, width: axisX - leftEnd, height: w, fill: '#000'}, g);
    
    
  });
  labels.forEach(v => {
    const l = mk('text', {class: 'bold', x: labelX, y: y(v) + 13, 'text-anchor': 'end'}, g, fmt(v));
    
    
  });
}
function xTick(g, cx, base, end, w) {
  const t = mk('rect', {x: cx - w / 2, y: base, width: w, height: end - base, fill: '#000'}, g);
  
  
}
function drawBar(g, cx, y, mean, W, s, fill, stroke) {
  if (mean <= 0) return;
  const x0 = cx - W / 2 + s / 2, x1 = cx + W / 2 - s / 2, top = y(mean) + s / 2, base = y(0);
  const b = mk('path', {d: `M${x0} ${base}V${top}H${x1}V${base}`, fill, stroke, 'stroke-width': s}, g);
  
  
}
function drawError(g, cx, y, hi, lo, cap, color, w) {
  if (hi === lo) return;
  const p = mk('path', {d: `M${cx} ${y(hi)}V${y(lo)}M${cx - cap} ${y(hi)}H${cx + cap}M${cx - cap} ${y(lo)}H${cx + cap}`, fill: 'none', stroke: color, 'stroke-width': w}, g);
  
  
}
function bracket(g, x1, y1, top, x2, y2) {
  const p = mk('path', {d: `M${x1} ${y1}V${top}H${x2}V${y2}`, fill: 'none', stroke: '#000', 'stroke-width': 5.2, 'stroke-linecap': 'round'}, g);
  
  
}
function sigLabel(g, cls, x, y, str) {
  const t = mk('text', {class: cls, x, y, 'text-anchor': 'middle'}, g, str);
  
  
}
function rotatedLabels(g, cats, xAt, nudges, ay) {
  cats.forEach((c, i) => {
    const ax = xAt(i) + nudges[i];
    const t = mk('text', {class: 'bold', 'text-anchor': 'end', transform: `translate(${ax},${ay}) rotate(-43)`}, g, c);
    
    
  });
}

/* Panel B */
(function () {
  const g = document.getElementById('panelB');
  const y = linear(0, 25, 1124, 621.3);
  const xAt = i => 262 + i * 144;
  const nudge = [1, 5];
  axesFrame(g, 167, 620, 1124, 145, 503, 5);
  yTicks(g, 167, 145, 136, y, panelBTickMarks, panelBTickLabels, v => String(v), 4.5);
  const colorsFill = ['#f9cb8f', '#eeae95'];
  const colorsDot = ['#f7991e', '#df5a27'];
  panelBCategories.forEach((c, i) => {
    drawBar(g, xAt(i), y, panelBMeans[i], 97, 8.8, colorsFill[i], '#000');
    xTick(g, xAt(i), 1124, 1146, 5);
    drawError(g, xAt(i), y, panelBErrHigh[i], panelBErrLow[i], 25, '#000', 2.6);
    panelBPoints[i].forEach((v, k) => marker(g, panelBShapes[i][k], xAt(i), y(v), 9.5, colorsDot[i]));
    const l = mk('text', {class: 'bold', x: xAt(i) + nudge[i], y: 1185, 'text-anchor': 'middle'}, g, c);
    
    
  });
  xAxisLine(g, 1124, 145, 503, 5);
})();

/* Panel E */
(function () {
  const g = document.getElementById('panelE');
  const y = linear(0, 1, 1843.8, 1349.8);
  const xAt = i => 240 + i * 98.75;
  const nudge = [-11, -7, 12];
  const colors = ['#f7991e', '#df5a27', '#7b1416'];
  axesFrame(g, 174.3, 1347.5, 1843.8, 152.6, 503.6, 5);
  xAxisLine(g, 1843.8, 152.6, 503.6, 5);
  yTicks(g, 174.3, 152.6, 145, y, panelETicks, panelETicks, v => v.toFixed(1), 4.5);
  panelECategories.forEach((c, i) => {
    xTick(g, xAt(i), 1843.8, 1866, 6);
    marker(g, panelEShapes[i], xAt(i), y(panelEValues[i]), 12.5, colors[i]);
    const l = mk('text', {class: 'bold', x: xAt(i) + nudge[i], y: 1914, 'text-anchor': 'middle'}, g, c);
    
    
  });
})();

/* Panels D + G */
const seriesStroke = ['#000000', '#ee2f7f', '#009490', '#51308f', '#a791c7', '#7ccbf3'];
const seriesFill = ['#000000', '#f69bbb', '#7fc9c7', '#a791c7', '#a791c7', '#7ccbf3'];

(function () {
  const g = document.getElementById('panelD');
  const y = linear(0, 150, 1115.5, 705.8);
  const xAt = i => 1751.8 + i * 64.43;
  axesFrame(g, 1709, 703.5, 1115.5, 1691, 2118.6, 5);
  xAxisLine(g, 1115.5, 1691, 2118.6, 5);
  yTicks(g, 1709, 1691, 1678, y, panelDTicks, panelDTicks, v => String(v), 5);
  panelDCategories.forEach((c, i) => {
    xTick(g, xAt(i), 1115.5, 1134, 5);
    drawBar(g, xAt(i), y, panelDMeans[i], 45.5, 9.4, seriesFill[i], seriesStroke[i]);
    drawError(g, xAt(i), y, panelDErrHigh[i], panelDErrLow[i], 13, seriesStroke[i], 2.6);
    const off = swarm(panelDPoints[i], y, 15, 9, 11);
    panelDPoints[i].forEach((v, k) => marker(g, panelDShapes[i][k], xAt(i) + off[k], y(v), 8.4, seriesStroke[i]));
  });
  rotatedLabels(g, panelDCategories, xAt, [-4, -3, 3, 4, 10, 18], 1170);
  bracket(g, 1817, 704, 596, 1946, 621);
  bracket(g, 1881, 704, 678, 1946, 952);
  bracket(g, 1816, 1035, 760, 1881, 786);
  sigLabel(g, 'ns', 1881, 575, 'ns');
  sigLabel(g, 'star', 1914, 679, '**');
  sigLabel(g, 'star', 1849, 761, '**');
})();

(function () {
  const g = document.getElementById('panelG');
  const y = linear(0, 50, 1847, 1355.4);
  const xAt = i => 1755.2 + i * 77.46;
  axesFrame(g, 1703.6, 1353, 1847, 1682.7, 2195, 5);
  xAxisLine(g, 1847, 1682.7, 2195, 5);
  yTicks(g, 1703.6, 1682.7, 1674, y, panelGTicks, panelGTicks, v => String(v), 5);
  panelGCategories.forEach((c, i) => {
    xTick(g, xAt(i), 1847, 1868, 5.5);
    drawBar(g, xAt(i), y, panelGMeans[i], 53.7, 9.4, seriesFill[i], seriesStroke[i]);
    drawError(g, xAt(i), y, panelGErrHigh[i], panelGErrLow[i], 14, seriesStroke[i], 2.6);
    const off = swarm(panelGPoints[i], y, 16, 16, 3);
    panelGPoints[i].forEach((v, k) => marker(g, panelGShapes[i][k], xAt(i) + off[k], y(v), 10, seriesStroke[i]));
  });
  rotatedLabels(g, panelGCategories, xAt, [8.5, 5, 7, 8, 3, 7], 1904);
  bracket(g, 1833, 1564, 1533, 1988, 1564);
  bracket(g, 1833, 1734, 1640, 1900.5, 1671);
  bracket(g, 1920, 1671, 1640, 1988, 1698);
  sigLabel(g, 'ns', 1911, 1507, 'ns');
  sigLabel(g, 'ns', 1867, 1614, 'ns');
  sigLabel(g, 'ns', 1955, 1614, 'ns');
})();
</script>
</body>
</html>
